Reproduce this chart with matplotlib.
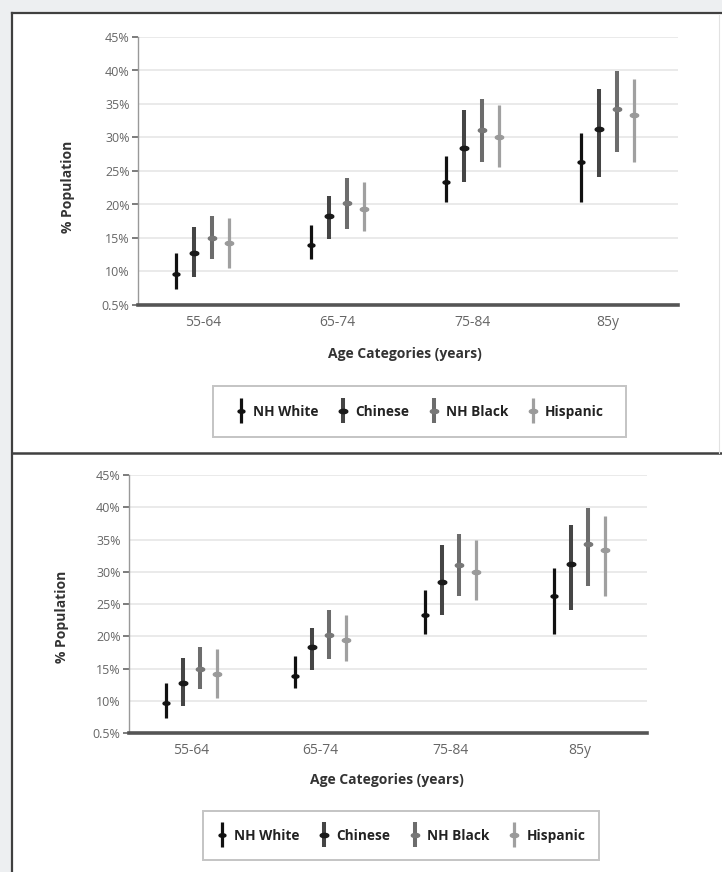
import matplotlib
matplotlib.use("Agg")
import matplotlib.pyplot as plt
import numpy as np
from matplotlib.patches import Rectangle
from matplotlib.lines import Line2D
from matplotlib.path import Path
from matplotlib.container import ErrorbarContainer
from matplotlib.legend_handler import HandlerErrorbar

plt.rcParams['font.family'] = ['Open Sans', 'DejaVu Sans']

# ---------------- data ----------------
categories = ["55-64", "65-74", "75-84", "85y"]
groups = ["NH White", "Chinese", "NH Black", "Hispanic"]

nhw_mid = [9.6, 13.9, 23.3, 26.3]
nhw_low = [7.4, 11.9, 20.4, 20.3]
nhw_high = [12.7, 17.0, 27.2, 30.6]

chi_mid = [12.8, 18.3, 28.4, 31.2]
chi_low = [9.2, 14.8, 23.3, 24.1]
chi_high = [16.7, 21.3, 34.1, 37.2]

nhb_mid = [15.0, 20.2, 31.1, 34.3]
nhb_low = [11.8, 16.4, 26.3, 27.8]
nhb_high = [18.3, 24.0, 35.8, 39.9]

his_mid = [14.2, 19.4, 30.0, 33.3]
his_low = [10.5, 16.1, 25.6, 26.3]
his_high = [18.0, 23.3, 34.9, 38.7]

ytick_values = [5, 10, 15, 20, 25, 30, 35, 40, 45]
ytick_labels = ["0.5%", "10%", "15%", "20%", "25%", "30%", "35%", "40%", "45%"]

series = [
    (nhw_mid, nhw_low, nhw_high),
    (chi_mid, chi_low, chi_high),
    (nhb_mid, nhb_low, nhb_high),
    (his_mid, his_low, his_high),
]

# ---------------- styles ----------------
W, H = 722, 872
line_colors = ['#111111', '#454545', '#6c6c6c', '#a0a0a0']
marker_colors = ['#111111', '#1a1a1a', '#777777', '#9a9a9a']
line_widths = [2.3, 2.9, 2.9, 2.3]
marker_sizes = [5.0, 6.2, 6.0, 6.0]
offsets = [-0.197, -0.066, 0.066, 0.197]

t = np.linspace(0, 2 * np.pi, 41)
ellipse = Path(np.column_stack([np.cos(t), 0.5 * np.sin(t)]))

fig = plt.figure(figsize=(W / 100, H / 100), dpi=100, facecolor='#edeff1')


def fx(x):
    return x / W


def fy(y):
    return 1 - y / H


# page frame
fig.add_artist(Rectangle((fx(12), 0), 1 - fx(12), fy(13), transform=fig.transFigure,
                         facecolor='white', edgecolor='none', zorder=-10))
fig.add_artist(Line2D([fx(12), fx(12)], [0, fy(13)], transform=fig.transFigure,
                      color='#404040', lw=1.6))
fig.add_artist(Line2D([fx(12), 1], [fy(13), fy(13)], transform=fig.transFigure,
                      color='#404040', lw=1.6))
fig.add_artist(Line2D([fx(12), 1], [fy(453), fy(453)], transform=fig.transFigure,
                      color='#404040', lw=1.8))
fig.add_artist(Line2D([fx(719), fx(719)], [fy(453), fy(15)], transform=fig.transFigure,
                      color='#e2e2e2', lw=0.8))


def panel(rect, ylab_xy, xlab_xy, legbox):
    left, top, right, bottom = rect
    ax = fig.add_axes([fx(left), fy(bottom), (right - left) / W, (bottom - top) / H])
    x = np.arange(len(categories))
    containers = []
    for i, (mid, low, high) in enumerate(series):
        mid = np.array(mid)
        yerr = [mid - np.array(low), np.array(high) - mid]
        c = ax.errorbar(x + offsets[i], mid, yerr=yerr,
                        marker=ellipse, markersize=marker_sizes[i],
                        markerfacecolor=marker_colors[i], markeredgecolor=marker_colors[i],
                        ecolor=line_colors[i], elinewidth=line_widths[i], capsize=0,
                        linestyle='none', zorder=3 + i, label=groups[i])
        containers.append(c)
    ax.set_xlim(-0.48, 3.52)
    ax.set_ylim(5, 45)
    ax.set_yticks(ytick_values)
    ax.set_yticklabels(ytick_labels)
    ax.set_xticks(x)
    ax.set_xticklabels(categories)
    ax.tick_params(axis='y', length=4, width=1.2, color='#666666', pad=2,
                   labelsize=9, labelcolor='#666666')
    ax.tick_params(axis='x', length=0, pad=7, labelsize=10, labelcolor='#666666')
    for tk, v in zip(ax.yaxis.get_major_ticks(), ytick_values):
        if v in (10, 35):
            tk.tick1line.set_visible(False)
    for s in ('top', 'right'):
        ax.spines[s].set_visible(False)
    ax.spines['left'].set_color('#999999')
    ax.spines['left'].set_linewidth(1.0)
    ax.spines['bottom'].set_color('#555555')
    ax.spines['bottom'].set_linewidth(2.6)
    ax.spines['bottom'].set_zorder(10)
    ax.set_axisbelow(True)
    ax.yaxis.grid(True, color='#e6e6e6', lw=1.2)

    fig.text(fx(ylab_xy[0]), fy(ylab_xy[1]), "% Population", rotation=90,
             ha='center', va='center', fontsize=10, fontweight='bold', color='#333333')
    fig.text(fx(xlab_xy[0]), fy(xlab_xy[1]), "Age Categories (years)",
             ha='center', va='center', fontsize=10, fontweight='bold', color='#333333')

    bx0, by0, bx1, by1 = legbox
    fig.add_artist(Rectangle((fx(bx0), fy(by1)), (bx1 - bx0) / W, (by1 - by0) / H,
                             transform=fig.transFigure, facecolor='white',
                             edgecolor='#c4c4c4', lw=1.4, zorder=1))
    leg = fig.legend(containers, groups, loc='center',
                     bbox_to_anchor=(fx((bx0 + bx1) / 2), fy((by0 + by1) / 2)),
                     bbox_transform=fig.transFigure, ncol=4, frameon=False,
                     prop={'weight': 'bold', 'size': 9.8},
                     handlelength=0.8, handletextpad=0.5, columnspacing=1.4,
                     handler_map={ErrorbarContainer: HandlerErrorbar(xerr_size=0.3, yerr_size=0.9)})
    for txt in leg.get_texts():
        txt.set_color('#222222')
    leg.set_zorder(5)
    return ax


panel((138, 37, 678, 305), (68, 187), (405, 354), (213, 386, 626, 437))
panel((129, 475, 647, 733), (62, 617), (387, 780), (203, 811, 599, 860))

fig.savefig("out.png", dpi=100, facecolor=fig.get_facecolor())
